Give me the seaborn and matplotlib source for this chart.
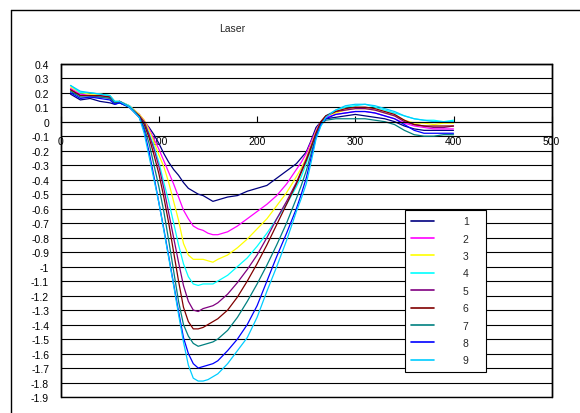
import matplotlib
matplotlib.use("Agg")
import matplotlib.pyplot as plt
import numpy as np
import pandas as pd
import seaborn as sns
from matplotlib.lines import Line2D
from matplotlib.patches import Rectangle

sns.set_style("white")
plt.rcParams['font.family'] = ['Liberation Sans', 'DejaVu Sans']

title = "Laser"
series_names = ["1", "2", "3", "4", "5", "6", "7", "8", "9"]
colors = ['#000080', '#FF00FF', '#FFFF00', '#00FFFF', '#800080',
          '#800000', '#008080', '#0000FF', '#00CCFF']

x_vals = [10, 20, 30, 40, 50, 55, 60, 70, 80,
          85, 90, 95, 100, 105, 110, 115, 120, 125, 130, 135, 140, 145, 150, 155, 160,
          170, 180, 190, 200, 210, 220, 230, 240,
          245, 250, 255, 260, 265, 270,
          280, 290, 300, 310, 320, 330, 340, 350, 360, 370, 380, 390, 400]

s1 = [0.19, 0.15, 0.16, 0.14, 0.13, 0.12, 0.13, 0.10, 0.05,
      0.00, -0.04, -0.09, -0.15, -0.22, -0.28, -0.33, -0.37, -0.42, -0.46, -0.48, -0.50, -0.51, -0.53, -0.55, -0.54,
      -0.52, -0.51, -0.48, -0.46, -0.44, -0.39, -0.34, -0.29,
      -0.25, -0.21, -0.13, -0.04, 0.00, 0.02,
      0.03, 0.04, 0.05, 0.04, 0.03, 0.02, 0.00, -0.03, -0.05, -0.06, -0.06, -0.06, -0.06]
s2 = [0.23, 0.19, 0.18, 0.18, 0.17, 0.13, 0.14, 0.11, 0.05,
      0.01, -0.05, -0.12, -0.19, -0.27, -0.35, -0.43, -0.52, -0.61, -0.67, -0.72, -0.74, -0.75, -0.77, -0.78, -0.78,
      -0.76, -0.72, -0.67, -0.62, -0.57, -0.51, -0.43, -0.33,
      -0.28, -0.22, -0.14, -0.06, 0.00, 0.03,
      0.05, 0.06, 0.07, 0.07, 0.06, 0.04, 0.02, -0.01, -0.03, -0.04, -0.05, -0.05, -0.05]
s3 = [0.24, 0.20, 0.19, 0.19, 0.18, 0.14, 0.14, 0.11, 0.05,
      0.01, -0.06, -0.14, -0.23, -0.31, -0.42, -0.55, -0.68, -0.84, -0.92, -0.95, -0.95, -0.95, -0.96, -0.97, -0.95,
      -0.92, -0.87, -0.81, -0.74, -0.67, -0.58, -0.49, -0.38,
      -0.32, -0.25, -0.16, -0.07, 0.00, 0.04,
      0.06, 0.08, 0.09, 0.09, 0.08, 0.06, 0.04, 0.01, -0.01, -0.01, -0.02, -0.01, -0.01]
s4 = [0.25, 0.20, 0.20, 0.19, 0.18, 0.14, 0.14, 0.11, 0.04,
      -0.01, -0.08, -0.17, -0.28, -0.42, -0.55, -0.70, -0.85, -0.98, -1.07, -1.12, -1.13, -1.12, -1.12, -1.12, -1.10,
      -1.06, -1.00, -0.94, -0.86, -0.77, -0.67, -0.57, -0.45,
      -0.38, -0.29, -0.19, -0.09, -0.01, 0.04,
      0.08, 0.10, 0.11, 0.12, 0.10, 0.08, 0.06, 0.04, 0.02, 0.01, 0.01, 0.00, 0.01]
s5 = [0.22, 0.18, 0.18, 0.17, 0.17, 0.13, 0.14, 0.10, 0.04,
      0.00, -0.09, -0.19, -0.31, -0.46, -0.63, -0.80, -0.97, -1.13, -1.24, -1.30, -1.31, -1.29, -1.28, -1.27, -1.25,
      -1.19, -1.11, -1.02, -0.92, -0.80, -0.67, -0.55, -0.42,
      -0.34, -0.26, -0.17, -0.08, 0.00, 0.04,
      0.07, 0.08, 0.09, 0.09, 0.08, 0.06, 0.04, 0.00, -0.02, -0.03, -0.04, -0.04, -0.03]
s6 = [0.22, 0.18, 0.18, 0.18, 0.17, 0.13, 0.14, 0.10, 0.04,
      -0.02, -0.11, -0.23, -0.36, -0.52, -0.70, -0.90, -1.10, -1.28, -1.38, -1.43, -1.43, -1.42, -1.40, -1.38, -1.36,
      -1.30, -1.21, -1.10, -0.98, -0.85, -0.71, -0.57, -0.43,
      -0.35, -0.27, -0.18, -0.08, 0.00, 0.04,
      0.07, 0.09, 0.10, 0.10, 0.09, 0.07, 0.05, 0.01, -0.02, -0.03, -0.03, -0.03, -0.03]
s7 = [0.21, 0.17, 0.17, 0.17, 0.16, 0.13, 0.13, 0.10, 0.03,
      -0.04, -0.15, -0.30, -0.45, -0.62, -0.82, -1.03, -1.24, -1.40, -1.48, -1.53, -1.55, -1.54, -1.53, -1.52, -1.50,
      -1.44, -1.35, -1.24, -1.12, -0.99, -0.85, -0.70, -0.53,
      -0.44, -0.34, -0.22, -0.10, -0.02, 0.01,
      0.02, 0.02, 0.02, 0.02, 0.01, 0.00, -0.02, -0.06, -0.09, -0.10, -0.10, -0.09, -0.09]
s8 = [0.20, 0.16, 0.17, 0.16, 0.15, 0.12, 0.13, 0.10, 0.03,
      -0.06, -0.21, -0.38, -0.56, -0.74, -0.93, -1.12, -1.31, -1.49, -1.60, -1.67, -1.70, -1.69, -1.68, -1.67, -1.65,
      -1.58, -1.50, -1.40, -1.27, -1.10, -0.93, -0.77, -0.60,
      -0.50, -0.39, -0.25, -0.11, -0.02, 0.02,
      0.05, 0.06, 0.07, 0.07, 0.06, 0.04, 0.02, -0.02, -0.06, -0.08, -0.08, -0.08, -0.08]
s9 = [0.25, 0.21, 0.20, 0.19, 0.18, 0.14, 0.14, 0.10, 0.03,
      -0.08, -0.24, -0.40, -0.56, -0.75, -0.94, -1.13, -1.33, -1.52, -1.68, -1.77, -1.79, -1.79, -1.78, -1.76, -1.74,
      -1.67, -1.58, -1.49, -1.35, -1.17, -1.00, -0.82, -0.62,
      -0.53, -0.43, -0.28, -0.12, -0.03, 0.03,
      0.08, 0.11, 0.12, 0.12, 0.11, 0.09, 0.07, 0.04, 0.02, 0.01, 0.00, 0.00, 0.00]

x_ticks = [0, 100, 200, 300, 400, 500]
x_tick_labels = ["0", "100", "200", "300", "400", "500"]
y_ticks = [0.4, 0.3, 0.2, 0.1, 0.0, -0.1, -0.2, -0.3, -0.4, -0.5, -0.6, -0.7, -0.8,
           -0.9, -1.0, -1.1, -1.2, -1.3, -1.4, -1.5, -1.6, -1.7, -1.8, -1.9]
y_tick_labels = ["0.4", "0.3", "0.2", "0.1", "0", "-0.1", "-0.2", "-0.3", "-0.4", "-0.5",
                 "-0.6", "-0.7", "-0.8", "-0.9", "-1", "-1.1", "-1.2", "-1.3", "-1.4",
                 "-1.5", "-1.6", "-1.7", "-1.8", "-1.9"]

all_series = [s1, s2, s3, s4, s5, s6, s7, s8, s9]
rows = []
for name, vals in zip(series_names, all_series):
    for xv, yv in zip(x_vals, vals):
        rows.append({"x": xv, "y": yv, "series": name})
df = pd.DataFrame(rows)

W, H = 580, 414
fig = plt.figure(figsize=(W / 100, H / 100), dpi=100)
ax_l, ax_r, ax_t, ax_b = 60.7, 551.7, 64.7, 398.0
ax = fig.add_axes([ax_l / W, 1 - ax_b / H, (ax_r - ax_l) / W, (ax_b - ax_t) / H])

sns.lineplot(data=df, x="x", y="y", hue="series", hue_order=series_names,
             palette=colors, linewidth=0.9, estimator=None, sort=False, ax=ax)

ax.set_xlim(0, 500)
ax.set_ylim(-1.9, 0.4)
ax.set_xlabel("")
ax.set_ylabel("")
ax.set_yticks(y_ticks)
ax.set_yticklabels(y_tick_labels)
ax.set_xticks(x_ticks)
ax.set_xticklabels(x_tick_labels)
ax.yaxis.grid(True, color="black", linewidth=0.8)
ax.xaxis.grid(False)
ax.set_axisbelow(True)

for s in ["top", "left", "right"]:
    ax.spines[s].set_color("black")
    ax.spines[s].set_linewidth(1.0)
ax.spines["bottom"].set_position(("data", 0))
ax.spines["bottom"].set_color("black")
ax.spines["bottom"].set_linewidth(0.8)
ax.add_patch(Rectangle((0, 0), 1, 1, transform=ax.transAxes, fill=False,
                       ec="black", lw=1.0, clip_on=False, zorder=5))

ax.tick_params(axis="x", direction="in", length=4, width=0.8, pad=10,
               labelsize=7.5, colors="black", bottom=True)
ax.tick_params(axis="y", length=0, pad=8.4, labelsize=7.5, colors="black")

# legend
lx0 = (405 - ax_l) / (ax_r - ax_l)
ly1 = (ax_b - 211) / (ax_b - ax_t)
lw_ = (486 - 405) / (ax_r - ax_l)
lh_ = (368 - 211) / (ax_b - ax_t)
handles, labels = ax.get_legend_handles_labels()
leg = ax.legend(handles, labels, loc="upper left",
                bbox_to_anchor=(lx0, ly1 - lh_, lw_, lh_), mode="expand",
                borderaxespad=0, fontsize=7.5, frameon=True, fancybox=False,
                framealpha=1, edgecolor="black", handlelength=2.2,
                handletextpad=2.75, labelspacing=0.71, borderpad=0.6)
leg.get_frame().set_linewidth(0.8)
for h in leg.get_lines():
    h.set_linewidth(1.2)

fig.text(232 / W, 1 - 29 / H, title, ha="center", va="center", fontsize=7.5)

fig.add_artist(Line2D([11 / W, 11 / W], [0, 1 - 11 / H], transform=fig.transFigure,
                      color="black", lw=1.0))
fig.add_artist(Line2D([11 / W, 1], [1 - 11 / H, 1 - 11 / H], transform=fig.transFigure,
                      color="black", lw=1.0))

fig.savefig("out.png", dpi=100)
